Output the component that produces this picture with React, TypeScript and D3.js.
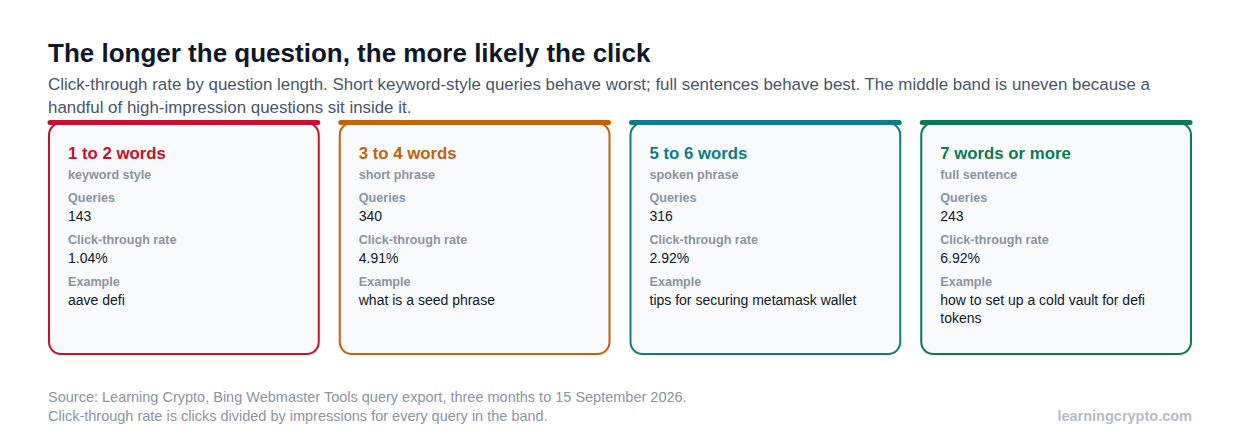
import * as d3 from "d3";

const W = 1240;
const H = 438;
const FONT = "'Liberation Sans', Arial, Helvetica, sans-serif";

const title = "The longer the question, the more likely the click";
const subtitle =
  "Click-through rate by question length. Short keyword-style queries behave worst; full sentences behave best. The middle band is uneven because a handful of high-impression questions sit inside it.";
const sourceLines = [
  "Source: Learning Crypto, Bing Webmaster Tools query export, three months to 15 September 2026.",
  "Click-through rate is clicks divided by impressions for every query in the band.",
];
const brand = "learningcrypto.com";

const bands = ["1 to 2 words", "3 to 4 words", "5 to 6 words", "7 words or more"];
const styles = ["keyword style", "short phrase", "spoken phrase", "full sentence"];
const queries = [143, 340, 316, 243];
const ctr = [1.04, 4.91, 2.92, 6.92];
const examples = [
  "aave defi",
  "what is a seed phrase",
  "tips for securing metamask wallet",
  "how to set up a cold vault for defi tokens",
];
const colors = ["#c8102e", "#c2620b", "#0f7b89", "#0a7a55"];

const ctx = document.createElement("canvas").getContext("2d")!;
function wrap(text: string, font: string, width: number): string[] {
  ctx.font = font;
  const words = text.split(" ");
  const lines: string[] = [];
  let cur = "";
  for (const w of words) {
    const t = cur ? cur + " " + w : w;
    if (ctx.measureText(t).width > width && cur) {
      lines.push(cur);
      cur = w;
    } else cur = t;
  }
  if (cur) lines.push(cur);
  return lines;
}

export default function App() {
  const left = 48;
  const right = 1192;
  const gap = 19;
  const x = d3.scaleBand<number>().domain(d3.range(bands.length)).range([left, right + gap]).paddingInner(0).paddingOuter(0);
  const cw = x.bandwidth() - gap;
  const cardTop = 123;
  const cardH = 231;
  const subLines = wrap(subtitle, `16.9px ${FONT}`, right - left);

  return (
    <svg width={W} height={H} style={{ position: "absolute", left: 0, top: 0, fontFamily: FONT }}>
      <rect width={W} height={H} fill="#ffffff" />
      <text x={left} y={62} fontSize={26} fontWeight="bold" fill="#0f172a">
        {title}
      </text>
      {subLines.map((l, i) => (
        <text key={i} x={left} y={90 + i * 23} fontSize={16.9} fill="#475569">
          {l}
        </text>
      ))}
      {bands.map((b, i) => {
        const cx = x(i)!;
        const c = colors[i];
        const tx = cx + 20;
        const ex = wrap(examples[i], `14px ${FONT}`, cw - 40);
        return (
          <g key={b}>
            <rect x={cx + 1} y={cardTop} width={cw - 2} height={cardH} rx={12} fill="#f8fafc" stroke={c} strokeWidth={2} />
            <line x1={cx + 2} x2={cx + cw - 2} y1={cardTop - 0.5} y2={cardTop - 0.5} stroke={c} strokeWidth={5} strokeLinecap="round" />
            <text x={tx} y={159} fontSize={16.8} fontWeight="bold" fill={c}>{b}</text>
            <text x={tx} y={179} fontSize={12.6} fontWeight="bold" fill="#8a93a4">{styles[i]}</text>
            <text x={tx} y={202} fontSize={12.6} fontWeight="bold" fill="#8a93a4">Queries</text>
            <text x={tx} y={220.5} fontSize={14} fill="#111827">{d3.format("d")(queries[i])}</text>
            <text x={tx} y={244} fontSize={12.6} fontWeight="bold" fill="#8a93a4">Click-through rate</text>
            <text x={tx} y={262.5} fontSize={14} fill="#111827">{d3.format(".2f")(ctr[i])}%</text>
            <text x={tx} y={286} fontSize={12.6} fontWeight="bold" fill="#8a93a4">Example</text>
            {ex.map((l, j) => (
              <text key={j} x={tx} y={304.5 + j * 18.5} fontSize={14} fill="#111827">{l}</text>
            ))}
          </g>
        );
      })}
      {sourceLines.map((l, i) => (
        <text key={i} x={left} y={402 + i * 19} fontSize={14.5} fill="#8b93a3">{l}</text>
      ))}
      <text x={right} y={421} fontSize={14.5} fontWeight="bold" fill="#b4bccb" textAnchor="end">{brand}</text>
    </svg>
  );
}
